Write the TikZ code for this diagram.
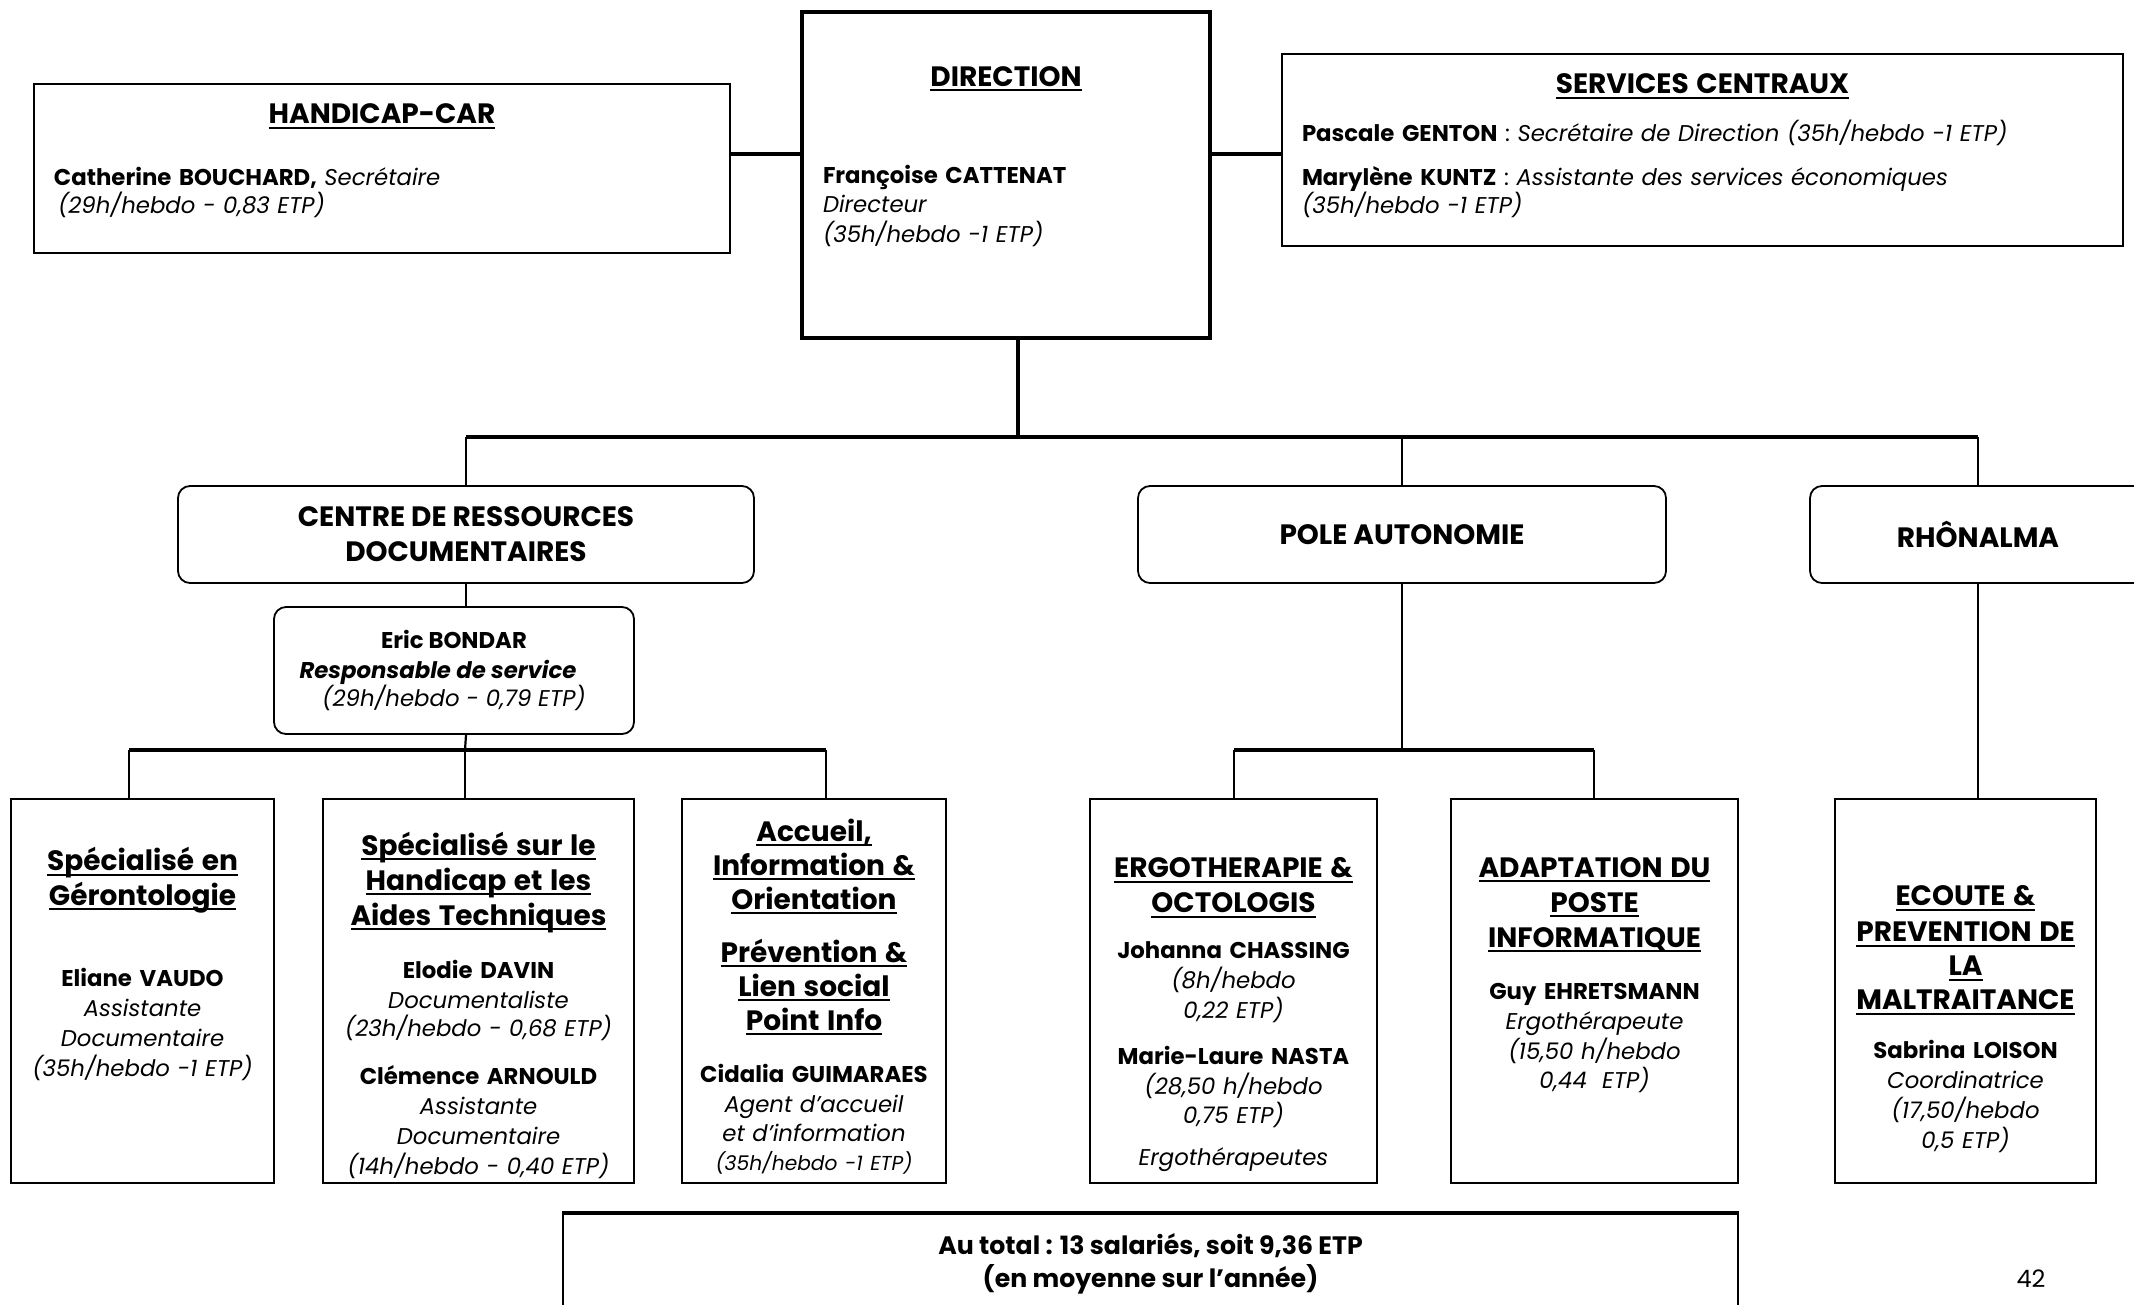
\documentclass[tikz,border=0pt]{standalone}
\usepackage{fontspec}
\setmainfont{Poppins}
\usepackage{tikz}
\newcommand{\corps}{\fontsize{11.4}{15}\selectfont}
\newcommand{\titre}{\fontsize{14}{15}\selectfont\bfseries}
\newcommand{\titrebloc}{\fontsize{14}{17.5}\selectfont\bfseries}
\newcommand{\souligne}[1]{\leavevmode\setbox0\hbox{#1}\rlap{\rule[-2.5pt]{\wd0}{1pt}}\box0}
\newcommand{\centre}[1]{{\centering#1\par}}
\newcommand{\bas}[1]{\par\vspace{#1}\hrule height 0pt width 0pt}
\tikzstyle{cadre} = [rectangle, draw=black, line width=0.9pt, inner xsep=2pt, inner ysep=1pt, font=\corps]
\tikzstyle{cadregauche} = [cadre, inner xsep=10pt, align=left]
\tikzstyle{service} = [cadre, minimum height=192pt, align=center]
\tikzstyle{arrondi} = [rectangle, rounded corners=6pt, draw=black, line width=0.9pt, align=center, font=\titrebloc]
\tikzstyle{lien} = [line width=1.1pt]
\tikzstyle{barre} = [line width=1.8pt]

\begin{document}
\begin{tikzpicture}[x=0.5pt, y=-0.5pt]
\path[use as bounding box, fill=white] (0,0) rectangle (2134,1305);

% haut de l'organigramme
\node (dir) [cadregauche, line width=1.7pt, minimum width=204pt, minimum height=163pt, text width=183pt] at (1006,175) {%
  \centre{\titre\souligne{DIRECTION}}\vspace{33.5pt}
  \textbf{Françoise CATTENAT}\\[-0.5pt]
  \textit{Directeur}\\
  \textit{(35h/hebdo -1 ETP)}\bas{18.5pt}};
\node (handi) [cadregauche, minimum width=348pt, minimum height=84.5pt, text width=328pt] at (382,168.5) {%
  \centre{\titre\souligne{HANDICAP-CAR}}\vspace{16pt}
  \textbf{Catherine BOUCHARD,} \textit{Secrétaire}\\[-1pt]
  \hspace*{2pt}\textit{(29h/hebdo - 0,83 ETP)}\bas{7.5pt}};
\node (serv) [cadregauche, minimum width=420.5pt, minimum height=96pt, text width=400.5pt] at (1702.5,150) {%
  \centre{\titre\souligne{SERVICES CENTRAUX}}\vspace{9pt}
  \textbf{Pascale GENTON} : \textit{Secrétaire de Direction (35h/hebdo -1 ETP)}\\[7pt]
  \textbf{Marylène KUNTZ} : \textit{Assistante des services économiques}\\[-1pt]
  \textit{(35h/hebdo -1 ETP)}\bas{4pt}};

% poles
\node (crd) [arrondi, minimum width=288pt, minimum height=48.5pt] at (466,534.5) {\raisebox{-2.7pt}{CENTRE DE RESSOURCES}\\\raisebox{-2.7pt}{DOCUMENTAIRES}};
\node (pole) [arrondi, minimum width=264pt, minimum height=48.5pt] at (1402,534.5) {POLE AUTONOMIE};
\node (rhon) [arrondi, minimum width=168pt, minimum height=48.5pt] at (1978,534.5) {RHÔNALMA};
\node (eric) [arrondi, font=\corps, minimum width=180pt, minimum height=63.5pt] at (454,670.5) {%
  \textbf{Eric BONDAR}\\
  \textbf{\textit{Responsable de service}}\rule{16pt}{0pt}\\[-1pt]
  \textit{(29h/hebdo - 0,79 ETP)}};

% services
\node (geronto) [service, minimum width=131.5pt, text width=127pt] at (142.5,991) {%
  {\titre\souligne{Spécialisé en}}\\[1pt]
  {\titre\souligne{Gérontologie}}\\[25.5pt]
  \textbf{Eliane VAUDO}\\
  \textit{Assistante}\\
  \textit{Documentaire}\\
  \textit{(35h/hebdo -1 ETP)}\bas{27pt}};
\node (handtech) [service, minimum width=155.5pt, text width=151pt] at (478.5,991) {%
  {\titre\souligne{Spécialisé sur le}}\\[2.5pt]
  {\titre\souligne{Handicap et les}}\\[2.5pt]
  {\titre\souligne{Aides Techniques}}\\[11.5pt]
  \textbf{Elodie DAVIN}\\
  \textit{Documentaliste}\\[-1pt]
  \textit{(23h/hebdo - 0,68 ETP)}\\[9pt]
  \textbf{Clémence ARNOULD}\\
  \textit{Assistante}\\
  \textit{Documentaire}\\
  \textit{(14h/hebdo - 0,40 ETP)}\bas{-14pt}};
\node (accueil) [service, minimum width=132pt, text width=128pt] at (814,991) {%
  {\titre\souligne{Accueil,}}\\[2pt]
  {\titre\souligne{Information \&}}\\[2pt]
  {\titre\souligne{Orientation}}\\[11.5pt]
  {\titre\souligne{Prévention \&}}\\[2pt]
  {\titre\souligne{Lien social}}\\[2pt]
  {\titre\souligne{Point Info}}\\[11pt]
  \textbf{Cidalia GUIMARAES}\\
  \textit{Agent d’accueil}\\[-0.5pt]
  \textit{et d’information}\\[-0.5pt]
  {\fontsize{10.1}{12}\selectfont\textit{(35h/hebdo -1 ETP)}}\bas{-5.5pt}};
\node (ergo) [service, minimum width=143.5pt, text width=139pt] at (1233.5,991) {%
  {\titre\souligne{ERGOTHERAPIE \&}}\\[2.5pt]
  {\titre\souligne{OCTOLOGIS}}\\[8pt]
  \textbf{Johanna CHASSING}\\
  \textit{(8h/hebdo}\\
  \textit{0,22 ETP)}\\[8pt]
  \textbf{Marie-Laure NASTA}\\
  \textit{(28,50 h/hebdo}\\[-0.5pt]
  \textit{0,75 ETP)}\\[6pt]
  \textit{Ergothérapeutes}\bas{-24pt}};
\node (adapt) [service, minimum width=143.5pt, text width=139pt] at (1594.5,991) {%
  {\titre\souligne{ADAPTATION DU}}\\[2.5pt]
  {\titre\souligne{POSTE}}\\[2.5pt]
  {\titre\souligne{INFORMATIQUE}}\\[11pt]
  \textbf{Guy EHRETSMANN}\\
  \textit{Ergothérapeute}\\
  \textit{(15,50 h/hebdo}\\[-0.5pt]
  \textit{0,44\ \ ETP)}\bas{16pt}};
\node (ecoute) [service, minimum width=130.5pt, text width=126pt] at (1965.5,991) {%
  {\titre\souligne{ECOUTE \&}}\\[3pt]
  {\titre\souligne{PREVENTION DE}}\\[2pt]
  {\titre\souligne{LA}}\\[2pt]
  {\titre\souligne{MALTRAITANCE}}\\[9.5pt]
  \textbf{Sabrina LOISON}\\
  \textit{Coordinatrice}\\
  \textit{(17,50/hebdo}\\
  \textit{0,5 ETP)}\bas{-28.5pt}};

% total et page
\node (total) [cadre, align=center, font=\fontsize{12.6}{16.3}\selectfont\bfseries, minimum width=587.5pt, minimum height=50pt] at (1150.5,1264) {%
  Au total : 13 salariés, soit 9,36 ETP\\
  (en moyenne sur l’année)};
\node (page) at (2031,1279) {\fontsize{12}{14}\selectfont 42};

% liaisons
\coordinate (bus) at (1018,437);
\coordinate (g1) at (129,750);
\coordinate (g2) at (465,750);
\coordinate (g3) at (826,750);
\coordinate (p1) at (1234,750);
\coordinate (p2) at (1594,750);

\draw [barre] (handi.east |- 0,154) -- (dir.west |- 0,154);
\draw [barre] (dir.east |- 0,154) -- (serv.west |- 0,154);
\draw [barre] (dir.south -| bus) -- (bus);
\draw [barre] (crd.north |- bus) -- (rhon.north |- bus);
\draw [lien] (crd.north |- bus) -- (crd.north);
\draw [lien] (pole.north |- bus) -- (pole.north);
\draw [lien] (rhon.north |- bus) -- (rhon.north);
\draw [barre] (total.north west) -- (total.north east);

\draw [lien] (crd.south) -- (crd.south |- eric.north);
\draw [lien] (crd.south |- eric.south) -- (g2);
\draw [barre] (g1) -- (g3);
\foreach \c/\n in {g1/geronto, g2/handtech, g3/accueil}
  \draw [lien] (\c) -- (\c |- \n.north);

\draw [lien] (pole.south) -- (pole.south |- p1);
\draw [barre] (p1) -- (p2);
\foreach \c/\n in {p1/ergo, p2/adapt}
  \draw [lien] (\c) -- (\c |- \n.north);

\draw [lien] (rhon.south) -- (rhon.south |- ecoute.north);
\end{tikzpicture}
\end{document}
